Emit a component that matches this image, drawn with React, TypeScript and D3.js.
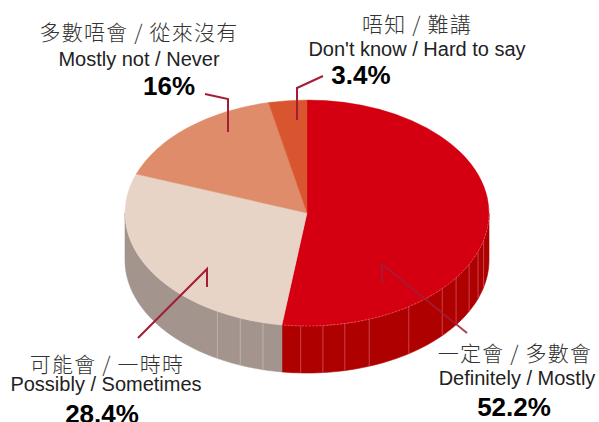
import React from "react";
import * as d3 from "d3";

// ---- data ----
const categories = ["Definitely / Mostly", "Possibly / Sometimes", "Mostly not / Never", "Don't know / Hard to say"];
const categoriesZh = ["一定會 / 多數會", "可能會 / 一時時", "多數唔會 / 從來沒有", "唔知 / 難講"];
const values = [52.2, 28.4, 16, 3.4];
const valueLabels = ["52.2%", "28.4%", "16%", "3.4%"];

// ---- styling ----
const topColors = ["#D40012", "#E8D4C7", "#DE8C6A", "#D9552F"];
const sideColors = ["#AF0000", "#A3958E", "#B96F52", "#B4401F"];
const stripeColors = ["#C9424C", "#BDB1AB", "#CC8A70", "#C8603F"];
// decorative facet lines on the cylinder wall (degrees, clockwise from top)
const stripeAngles = [104, 110, 117, 125, 132, 146, 160, 168, 175, 182, 194, 201.5, 209.5];

const W = 599, H = 422;
const cx = 307, cy = 213, rx = 182, ry = 113, depth = 47;

const labelLayout = [
  { zh: [515, 361], en: [517, 385], pct: [514, 416] },
  { zh: [107, 372], en: [106, 391], pct: [102, 423] },
  { zh: [139, 40], en: [139, 66], pct: [169, 95] },
  { zh: [417, 32], en: [417, 56], pct: [361, 84] },
];
const leaders: [number, number][][] = [
  [[467, 333], [382, 264], [382, 283]],
  [[138, 338], [207, 269], [207, 287]],
  [[205, 94], [228, 99], [228, 132]],
  [[323, 76], [297, 88], [297, 120]],
];

const ex = (a: number) => cx + rx * Math.sin(a);
const ey = (a: number) => cy - ry * Math.cos(a);

export default function App() {
  const pie = d3.pie<number>().sort(null).startAngle(0).endAngle(2 * Math.PI)(values);
  const arc = d3.arc<d3.PieArcDatum<number>>().innerRadius(0).outerRadius(rx);

  const sides: React.ReactNode[] = [];
  pie.forEach((p, i) => {
    const a0 = Math.max(p.startAngle, Math.PI / 2);
    const a1 = Math.min(p.endAngle, (3 * Math.PI) / 2);
    if (a1 <= a0) return;
    const pts: [number, number][] = [];
    const n = 60;
    for (let j = 0; j <= n; j++) {
      const a = a0 + ((a1 - a0) * j) / n;
      pts.push([ex(a), ey(a)]);
    }
    for (let j = n; j >= 0; j--) {
      const a = a0 + ((a1 - a0) * j) / n;
      pts.push([ex(a), ey(a) + depth]);
    }
    sides.push(
      <path key={`f${i}`} d={d3.line()(pts) + "Z"} fill={sideColors[i]} stroke={sideColors[i]} strokeWidth={0.6} />
    );
    stripeAngles.forEach((deg, k) => {
      const a = (deg * Math.PI) / 180;
      if (a <= a0 + 0.01 || a >= a1 - 0.01) return;
      sides.push(
        <line key={`s${i}-${k}`} x1={ex(a)} y1={ey(a)} x2={ex(a)} y2={ey(a) + depth} stroke={stripeColors[i]} strokeWidth={1} />
      );
    });
  });

  const rimPts: [number, number][] = [];
  {
    const p = pie[0];
    const s = Math.max(p.startAngle, Math.PI / 2), e = Math.min(p.endAngle, (3 * Math.PI) / 2);
    for (let j = 0; j <= 40; j++) {
      const a = s + ((e - s) * j) / 40;
      rimPts.push([ex(a), ey(a)]);
    }
  }

  const leaderColor = "#A31D36";
  const cjkFont = "'Noto Sans CJK TC', 'Noto Sans CJK SC', sans-serif";
  const latFont = "'Liberation Sans', Arial, sans-serif";

  return (
    <svg width={W} height={H} style={{ position: "absolute", left: 0, top: 0, background: "#fff" }}>
      <rect width={W} height={H} fill="#fff" />
      <g>{sides}</g>
      <g transform={`translate(${cx},${cy}) scale(1,${ry / rx})`}>
        {pie.map((p, i) => (
          <path key={i} d={arc(p) || ""} fill={topColors[i]} stroke={topColors[i]} strokeWidth={0.5} />
        ))}
      </g>
      <path d={d3.line()(rimPts) || ""} fill="none" stroke="#F07A82" strokeWidth={0.7} strokeDasharray="2 1.5" opacity={0.8} />
      {leaders.map((pts, i) => (
        <path key={i} d={d3.line()(pts) || ""} fill="none" stroke={leaderColor} strokeWidth={2} opacity={i === 0 ? 0.85 : 1} />
      ))}
      {categories.map((c, i) => {
        const L = labelLayout[i];
        return (
          <g key={c}>
            <text x={L.zh[0]} y={L.zh[1]} textAnchor="middle" fontFamily={cjkFont} fontWeight={300} fontSize={21} letterSpacing={1.2} fill="#333">
              {categoriesZh[i]}
            </text>
            <text x={L.en[0]} y={L.en[1]} textAnchor="middle" fontFamily={latFont} fontSize={20} fill="#222">
              {c}
            </text>
            <text x={L.pct[0]} y={L.pct[1]} textAnchor="middle" fontFamily={latFont} fontWeight="bold" fontSize={26} fill="#000">
              {valueLabels[i]}
            </text>
          </g>
        );
      })}
    </svg>
  );
}
